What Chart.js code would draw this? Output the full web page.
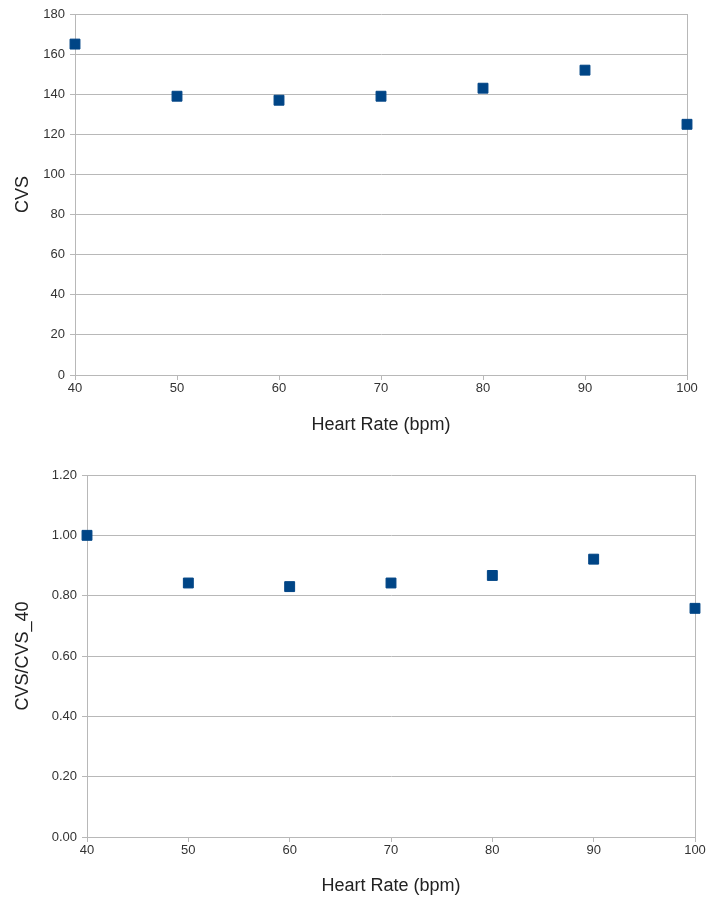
<!DOCTYPE html>
<html>
<head>
<meta charset="utf-8">
<script src="https://cdn.jsdelivr.net/npm/chart.js@4.4.1/dist/chart.umd.min.js"></script>
<style>
  html, body { margin: 0; padding: 0; background: #ffffff; }
  .box { position: absolute; left: 0; width: 707px; height: 449px; }
  #top { top: 0; }
  #bottom { top: 449px; }
</style>
</head>
<body>
<div class="box" id="top"><canvas id="cvsChart"></canvas></div>
<div class="box" id="bottom"><canvas id="ratioChart"></canvas></div>
<script>
// Heart rate sweep (bpm)
const heartRates = [40, 50, 60, 70, 80, 90, 100];
// CVS at each heart rate
const cvsValues = [165, 139, 137, 139, 143, 152, 125];
// CVS normalised to the 40 bpm value
const cvsRatio = [1.00, 0.842, 0.830, 0.842, 0.867, 0.921, 0.758];

const xTickLabels = ['40', '50', '60', '70', '80', '90', '100'];

const GRID = '#b8b8b8';
const MARK = '#004586';
const FONT = '"Liberation Sans", Arial, sans-serif';

const toPoints = (ys) => heartRates.map((x, i) => ({ x: x, y: ys[i] }));

function makeChart(canvasId, ys, opts) {
  const ctx = document.getElementById(canvasId).getContext('2d');
  return new Chart(ctx, {
    type: 'scatter',
    data: {
      datasets: [{
        data: toPoints(ys),
        pointStyle: 'rect',
        pointRadius: 7,
        pointHoverRadius: 7,
        backgroundColor: MARK,
        borderColor: MARK,
        borderWidth: 1,
        clip: false,
      }],
    },
    options: {
      responsive: true,
      maintainAspectRatio: false,
      animation: false,
      events: [],
      layout: { padding: opts.padding },
      plugins: { legend: { display: false }, tooltip: { enabled: false } },
      scales: {
        x: {
          type: 'linear',
          min: 40,
          max: 100,
          afterBuildTicks: (scale) => {
            scale.ticks = heartRates.map(v => ({ value: v }));
          },
          afterFit: (scale) => { scale.height = opts.xHeight; },
          border: { display: true, color: GRID },
          grid: {
            // only the right frame line runs across the plot
            color: (c) => (c.index === heartRates.length - 1 ? GRID : 'rgba(0,0,0,0)'),
            tickColor: GRID,
            tickLength: 5,
            drawOnChartArea: true,
          },
          ticks: {
            color: '#333333',
            font: { family: FONT, size: 13 },
            padding: 1,
            maxRotation: 0,
            callback: (v, i) => xTickLabels[i],
          },
          title: {
            display: true,
            text: 'Heart Rate (bpm)',
            color: '#222222',
            font: { family: FONT, size: 18 },
            padding: { top: 0, bottom: opts.xTitlePad },
          },
        },
        y: {
          min: 0,
          max: opts.yMax,
          afterFit: (scale) => { scale.width = opts.yWidth; },
          border: { display: true, color: GRID },
          grid: { color: GRID, tickColor: GRID, tickLength: 5 },
          ticks: {
            stepSize: opts.yStep,
            color: '#333333',
            font: { family: FONT, size: 13 },
            padding: 5,
            callback: opts.yFormat,
          },
          title: {
            display: true,
            text: opts.yTitle,
            color: '#222222',
            font: { family: FONT, size: 18 },
            padding: { top: 0, bottom: 0 },
          },
        },
      },
    },
  });
}

makeChart('cvsChart', cvsValues, {
  padding: { top: 14, right: 20, bottom: 0, left: 12 },
  xHeight: 74,
  yWidth: 63,
  yMax: 180,
  yStep: 20,
  yTitle: 'CVS',
  xTitlePad: 13,
  yFormat: (v) => String(v),
});

makeChart('ratioChart', cvsRatio, {
  padding: { top: 26, right: 12, bottom: 0, left: 12 },
  xHeight: 61,
  yWidth: 75,
  yMax: 1.2,
  yStep: 0.2,
  yTitle: 'CVS/CVS_40',
  xTitlePad: 1,
  yFormat: (v) => v.toFixed(2),
});
</script>
</body>
</html>
